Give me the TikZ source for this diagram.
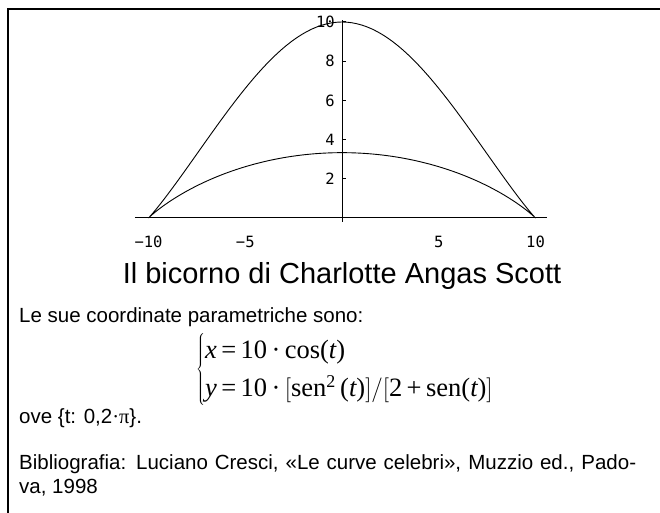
\documentclass[tikz,border=0pt]{standalone}
\usepackage{fontspec}
\setmainfont{Liberation Sans}
\newfontfamily\formulafont{Liberation Serif}
\newfontfamily\tickfont{DejaVu Sans Mono}
\usetikzlibrary{positioning}

\newcommand{\fv}[1]{\mbox{\formulafont\itshape #1}}
\newcommand{\fr}[1]{\mbox{\formulafont #1}}

\begin{document}
\begin{tikzpicture}[
  x=1pt, y=1pt,
  node distance=10pt,
  frame/.style={line width=2.5pt},
  axis/.style={line width=1pt},
  curve/.style={line width=0.9pt},
  ticklabel/.style={font=\tickfont\fontsize{15.5}{15.5}\selectfont, inner sep=0pt},
  body/.style={font=\fontsize{20.5}{24}\selectfont, inner sep=0pt, anchor=base west},
  heading/.style={font=\fontsize{29}{33}\selectfont, inner sep=0pt, anchor=base},
  formula/.style={font=\formulafont\fontsize{26.5}{30}\selectfont, inner sep=0pt, anchor=west}
]
\useasboundingbox (0,0) rectangle (660,513);

% frame (top and left edge)
\draw[frame] (8,0) -- (8,504) -- (660,504);

% plot of the curve
\begin{scope}[shift={(342,295)}, x=19.35pt, y=19.6pt]
  \coordinate (xmin) at (-10.7,0);
  \coordinate (xmax) at (10.6,0);
  \coordinate (ymin) at (0,-0.2);
  \coordinate (ymax) at (0,10.1);
  \draw[axis] (xmin) -- (xmax);
  \draw[axis] (ymin) -- (ymax);
  \foreach \v in {2,4,6,8,10} {
    \coordinate (yt\v) at (0,\v);
    \draw[axis] (yt\v) -- ++(4pt,0);
    \node[ticklabel, anchor=east] (ylab\v) at ([xshift=-7pt]yt\v) {\v};
  }
  \foreach \v/\s in {-10/−10,-5/−5,5/5,10/10} {
    \coordinate (xt\v) at (\v,0);
    \node[ticklabel] (xlab\v) at ([yshift=-24pt]xt\v) {\s};
  }
  \draw[curve] plot[domain=0:360, samples=241, variable=\t]
    ({10*cos(\t)}, {10*sin(\t)^2/(2+sin(\t))}) -- cycle;
\end{scope}

% texts
\node[heading] (title) at (342,229) {Il bicorno di Charlotte Angas Scott};
\node[body] (intro) at (19,190) {Le sue coordinate parametriche sono:};
\node[formula] (system) at (196,143) {$\left\{\renewcommand{\arraystretch}{1.25}\begin{array}{@{}l@{}}
  \fv{x}\fr{\,=\,10\,·\,cos(}\fv{t}\fr{)}\\
  \fv{y}\fr{\,=\,10\,·\,}\biggl[\fr{sen}^{\fr{\fontsize{18}{18}\selectfont 2}}\fr{\,(}\fv{t}\fr{)}\biggr]\bigg/\biggl[\fr{2\,+\,sen(}\fv{t}\fr{)}\biggr]
  \end{array}\right.$};
\node[body, below=101pt of intro.base west, anchor=base west] (range) {ove \{t: 0,2{\formulafont·π}\}.};
\node[body, below=46pt of range.base west, anchor=base west] (biblio)
  {\makebox[617pt][s]{Bibliografia: Luciano Cresci, «Le curve celebri», Muzzio ed., Pado-}};
\node[body, below=23.5pt of biblio.base west, anchor=base west] (biblio2) {va, 1998};
\end{tikzpicture}
\end{document}
